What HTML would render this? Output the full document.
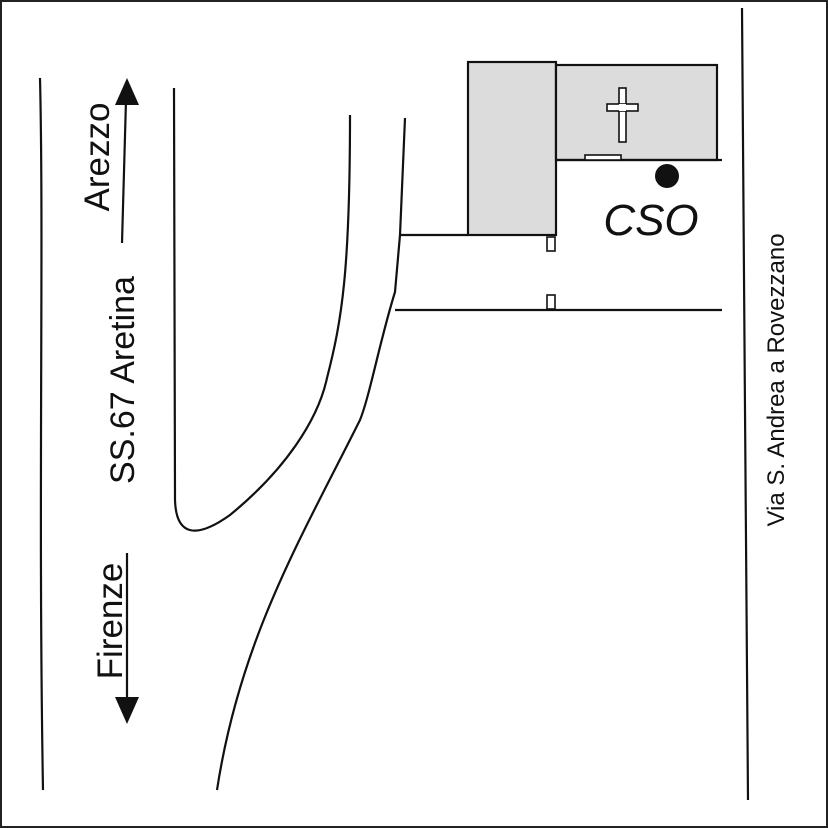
<!DOCTYPE html>
<html><head><style>body{margin:0;background:#fff}svg{display:block}</style></head><body>
<svg width="828" height="828" viewBox="0 0 828 828" xmlns="http://www.w3.org/2000/svg" font-family="Liberation Sans, sans-serif">
<rect x="1" y="1" width="826" height="826" fill="#fff" stroke="#222" stroke-width="2"/>
<g fill="none" stroke="#111" stroke-width="2.2">
<path d="M40,78 C44,250 38,500 43,790"/>
<path d="M174,88 L175,500 C176,535 195,540 230,515 C285,470 318,420 327,378 C342,320 350,270 350,115"/>
<path d="M405,118 L400,235 L395,292 C380,340 370,395 360,420 C300,540 240,640 217,790"/>
<path d="M742,8 C742,300 748,500 748,800"/>
<line x1="400" y1="235" x2="468" y2="235"/>
<line x1="395" y1="310" x2="722" y2="310"/>
<line x1="122" y1="243" x2="126" y2="100"/>
<line x1="127" y1="553" x2="127" y2="700"/>
</g>
<polygon points="127,78 115,105 139,105" fill="#111"/>
<polygon points="127,724 115,697 139,697" fill="#111"/>
<rect x="468" y="62" width="88" height="173" fill="#dcdcdc" stroke="#111" stroke-width="2.2"/>
<rect x="556" y="65" width="161" height="95" fill="#dcdcdc" stroke="#111" stroke-width="2.2"/>
<line x1="556" y1="160" x2="722" y2="160" stroke="#111" stroke-width="2.2"/>
<rect x="619" y="88" width="7" height="54" fill="#fff" stroke="#111" stroke-width="1.6"/>
<rect x="607" y="104" width="31" height="7" fill="#fff" stroke="#111" stroke-width="1.6"/>
<rect x="619" y="104" width="7" height="7" fill="#fff"/>
<rect x="585" y="155" width="36" height="5" fill="#fff" stroke="#111" stroke-width="1.6"/>
<rect x="547" y="237" width="8" height="14" fill="#fff" stroke="#111" stroke-width="1.6"/>
<rect x="547" y="295" width="8" height="14" fill="#fff" stroke="#111" stroke-width="1.6"/>
<circle cx="667" cy="176" r="12" fill="#111"/>
<text x="651" y="235" font-size="44" font-style="italic" text-anchor="middle" fill="#111">CSO</text>
<g fill="#111" text-anchor="middle">
<text transform="translate(109,157) rotate(-90)" font-size="35">Arezzo</text>
<text transform="translate(134,380) rotate(-90)" font-size="34">SS.67 Aretina</text>
<text transform="translate(122,621) rotate(-90)" font-size="35">Firenze</text>
<text transform="translate(784,380) rotate(-90)" font-size="24">Via S. Andrea a Rovezzano</text>
</g>
</svg>
</body></html>
